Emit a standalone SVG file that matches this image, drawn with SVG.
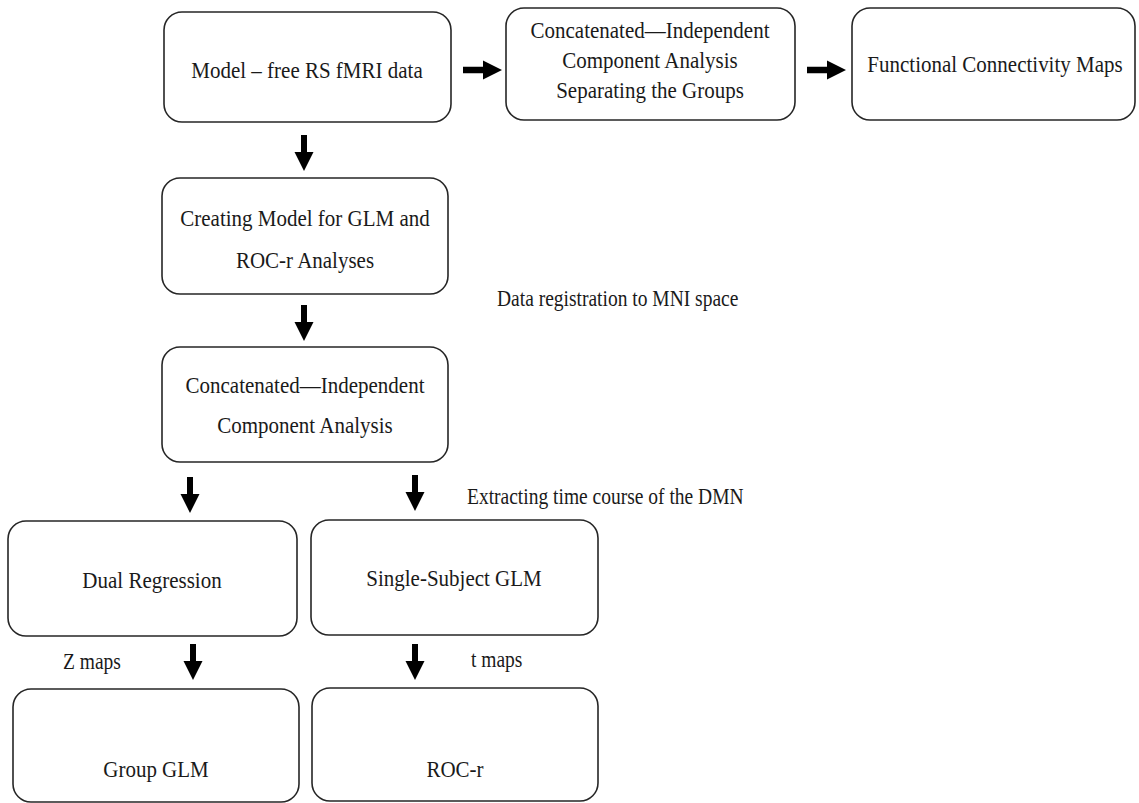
<svg xmlns="http://www.w3.org/2000/svg" xmlns:xlink="http://www.w3.org/1999/xlink" width="1139" height="803" viewBox="0 0 1139 803">
<style>
.box{fill:#fff;stroke:#262626;stroke-width:1.6}
.t{font-family:"Liberation Serif","Times New Roman",serif;font-size:21px;fill:#1a1a1a;text-anchor:middle}
.l{font-family:"Liberation Serif","Times New Roman",serif;font-size:19.5px;fill:#1a1a1a}
.arr{fill:#000}
</style>
<defs>
<path id="ad" d="M-3,0 H3 V17 H9.5 L0,36 L-9.5,17 H-3 Z"/>
<path id="ar" d="M0,-3.2 H20 V-9.5 L39,0 L20,9.5 V3.2 H0 Z"/>
</defs>
<rect width="1139" height="803" fill="#fff"/>
<g id="connectors" class="arr">
<use xlink:href="#ar" x="463" y="70"/>
<use xlink:href="#ar" x="807" y="70"/>
<use xlink:href="#ad" x="304" y="135"/>
<use xlink:href="#ad" x="304" y="305"/>
<use xlink:href="#ad" x="190" y="477"/>
<use xlink:href="#ad" x="415" y="475"/>
<use xlink:href="#ad" x="193" y="644"/>
<use xlink:href="#ad" x="415" y="644"/>
</g>
<g id="n1"><rect class="box" x="164" y="12" width="287" height="110" rx="18"/><text class="t" transform="translate(307,78) scale(1,1.1)">Model – free RS fMRI data</text></g>
<g id="n2"><rect class="box" x="506" y="8" width="289" height="112" rx="18"/><text class="t" transform="translate(650,38) scale(1,1.1)">Concatenated—Independent</text><text class="t" transform="translate(650,68) scale(1,1.1)">Component Analysis</text><text class="t" transform="translate(650,98) scale(1,1.1)">Separating the Groups</text></g>
<g id="n3"><rect class="box" x="852" y="8" width="283" height="112" rx="18"/><text class="t" transform="translate(995,72) scale(1,1.1)">Functional Connectivity Maps</text></g>
<g id="n4"><rect class="box" x="162" y="178" width="286" height="116" rx="18"/><text class="t" transform="translate(305,226) scale(1,1.1)">Creating Model for GLM and</text><text class="t" transform="translate(305,268) scale(1,1.1)">ROC-r Analyses</text></g>
<g id="n5"><rect class="box" x="162" y="347" width="286" height="115" rx="18"/><text class="t" transform="translate(305,393) scale(1,1.1)">Concatenated—Independent</text><text class="t" transform="translate(305,433) scale(1,1.1)">Component Analysis</text></g>
<g id="n6"><rect class="box" x="8" y="521" width="289" height="115" rx="18"/><text class="t" transform="translate(152,588) scale(1,1.1)">Dual Regression</text></g>
<g id="n7"><rect class="box" x="311" y="520" width="287" height="115" rx="18"/><text class="t" transform="translate(454,586) scale(1,1.1)">Single-Subject GLM</text></g>
<g id="n8"><rect class="box" x="13" y="689" width="286" height="113" rx="18"/><text class="t" transform="translate(156,777) scale(1,1.1)">Group GLM</text></g>
<g id="n9"><rect class="box" x="312" y="688" width="286" height="113" rx="18"/><text class="t" transform="translate(455,777) scale(1,1.1)">ROC-r</text></g>
<g id="labels">
<text class="l" transform="translate(497,306) scale(1,1.13)">Data registration to MNI space</text>
<text class="l" transform="translate(467,504) scale(1,1.13)">Extracting time course of the DMN</text>
<text class="l" transform="translate(63,669) scale(1,1.13)">Z maps</text>
<text class="l" transform="translate(471,667) scale(1,1.13)">t maps</text>
</g>
</svg>
